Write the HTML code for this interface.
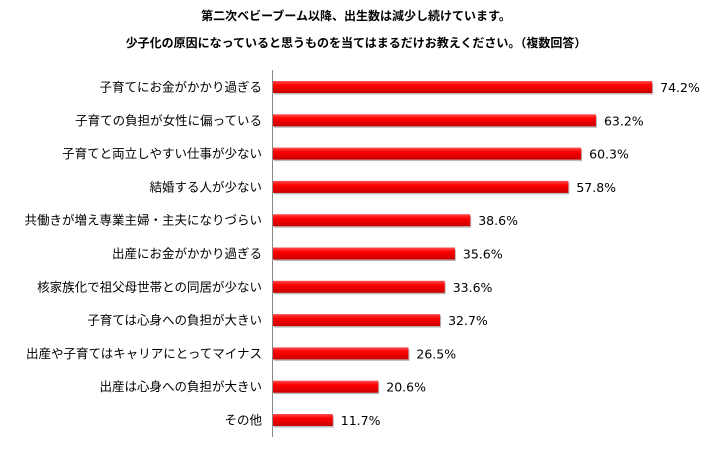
<!DOCTYPE html>
<html><head><meta charset="utf-8"><style>
body{margin:0;background:#fff;width:712px;height:444px;overflow:hidden}
svg text{font-family:"Liberation Sans","Noto Sans CJK JP",sans-serif}
svg text.val{font-family:"DejaVu Sans",sans-serif}
</style></head><body>
<svg id="c" width="712" height="444">
<defs><linearGradient id="g" x1="0" y1="0" x2="0" y2="1"><stop offset="0" stop-color="#ff5050"/><stop offset="0.35" stop-color="#ff0000"/><stop offset="1" stop-color="#c80000"/></linearGradient></defs>
<text x="356" y="20" text-anchor="middle" font-size="12" font-weight="bold">第二次ベビーブーム以降、出生数は減少し続けています。</text>
<text x="356" y="47" text-anchor="middle" font-size="12" font-weight="bold">少子化の原因になっていると思うものを当てはまるだけお教えください。（複数回答）</text>
<line x1="272.5" y1="70" x2="272.5" y2="437" stroke="#888"/>
<g id="bars"></g>
</svg>
<script>
const categories=["子育てにお金がかかり過ぎる","子育ての負担が女性に偏っている","子育てと両立しやすい仕事が少ない","結婚する人が少ない","共働きが増え専業主婦・主夫になりづらい","出産にお金がかかり過ぎる","核家族化で祖父母世帯との同居が少ない","子育ては心身への負担が大きい","出産や子育てはキャリアにとってマイナス","出産は心身への負担が大きい","その他"];
const values=[74.2,63.2,60.3,57.8,38.6,35.6,33.6,32.7,26.5,20.6,11.7];
const labels=["74.2%","63.2%","60.3%","57.8%","38.6%","35.6%","33.6%","32.7%","26.5%","20.6%","11.7%"];
const x0=273,scale=5.11,y0=87,step=33.3,bh=12;
const xs=v=>x0+v*scale, ys=i=>y0+i*step;
const g=document.getElementById('bars'),NS="http://www.w3.org/2000/svg";
categories.forEach((c,i)=>{
 const cy=ys(i);
 const t=document.createElementNS(NS,'text');
 
 
 t.setAttribute('x',262);t.setAttribute('y',cy+4.5);t.setAttribute('text-anchor','end');t.setAttribute('font-size','12.5');t.textContent=c;g.appendChild(t);
 const s=document.createElementNS(NS,'rect');
 
 
 s.setAttribute('x',x0+1);s.setAttribute('y',cy-bh/2+1.5);s.setAttribute('width',xs(values[i])-x0);s.setAttribute('height',bh);s.setAttribute('fill','#bbb');g.appendChild(s);
 const r=document.createElementNS(NS,'rect');
 
 
 r.setAttribute('x',x0);r.setAttribute('y',cy-bh/2);r.setAttribute('width',xs(values[i])-x0);r.setAttribute('height',bh);r.setAttribute('fill','url(#g)');g.appendChild(r);
 const v=document.createElementNS(NS,'text');
 
 
 v.setAttribute('class','val');
 v.setAttribute('x',xs(values[i])+8);v.setAttribute('y',cy+5);v.setAttribute('font-size','12.5');v.textContent=labels[i];g.appendChild(v);
});
</script>
</body></html>
